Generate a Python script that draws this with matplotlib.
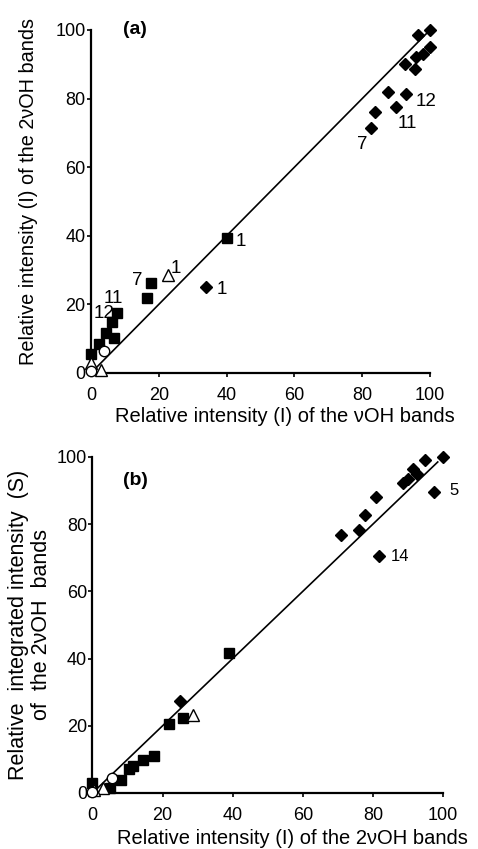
import matplotlib
matplotlib.use("Agg")
import matplotlib.pyplot as plt
import numpy as np

plt.rcParams["font.family"] = ["Liberation Sans", "DejaVu Sans"]

# (a) 2vOH vs vOH relative intensities
a_diamond_x = [100, 96.5, 100, 92.5, 95.5, 96, 98, 87.7, 93, 90, 83.7, 82.5, 33.8]
a_diamond_y = [100, 98.5, 95, 90, 88.6, 92, 93, 82, 81.3, 77.6, 76, 71.3, 25.2]
a_square_x = [40, 17.8, 16.6, 7.8, 6.2, 4.3, 6.8, 2.3, 0]
a_square_y = [39.3, 26.2, 22, 17.6, 14.8, 11.6, 10.2, 8.4, 5.4]
a_triangle_x = [22.8, 0, 3]
a_triangle_y = [28.6, 3, 0.8]
a_circle_x = [3.9, 0]
a_circle_y = [6.4, 0.5]
a_fit = (1.0, 0.0, 0, 99)  # slope, intercept, x start, x end
a_notes = [("1", 44.3, 38.3), ("7", 13.7, 27.1), ("1", 25.1, 30.5),
           ("1", 38.7, 24.4), ("11", 6.6, 21.8), ("12", 3.8, 17.4),
           ("12", 98.8, 79.1), ("11", 93.4, 72.8), ("7", 80.1, 66.5)]

# (b) integrated 2vOH intensity vs 2vOH intensity
b_diamond_x = [100, 94.8, 91.5, 92.5, 90, 88.7, 81, 77.7, 76.1, 70.8, 97.5, 81.8, 24.9]
b_diamond_y = [100, 99, 96.4, 95, 93.5, 92.2, 88.2, 82.7, 78.3, 76.8, 89.5, 70.6, 27.5]
b_square_x = [39, 21.8, 25.8, 17.6, 14.4, 11.5, 10.3, 8.2, 5, 0]
b_square_y = [41.8, 20.5, 22.2, 10.9, 9.9, 8, 7, 3.8, 1.5, 3]
b_triangle_x = [28.8, 3, 0.5]
b_triangle_y = [23.2, 1.5, 1]
b_circle_x = [5.5, 0]
b_circle_y = [4.6, 0.3]
b_fit = (1.0, 0.0, 0, 98.5)
b_notes = [("5", 103, 89.9), ("14", 87.7, 70.4)]

ticks = [0, 20, 40, 60, 80, 100]


def draw_panel(ax, d, s, t, c, fit, notes, note_size):
    slope, icpt, x0, x1 = fit
    xs = np.array([x0, x1])
    ax.plot(xs, slope * xs + icpt, color="black", lw=1.2, zorder=2)
    ax.plot(*s, "s", color="black", ms=6.5, clip_on=False, zorder=3)
    ax.plot(*d, "D", color="black", ms=5.8, clip_on=False, zorder=3)
    ax.plot(*t, "^", mfc="white", mec="black", mew=1.0, ms=8, clip_on=False, zorder=4)
    ax.plot(*c, "o", mfc="white", mec="black", mew=1.0, ms=7.5, clip_on=False, zorder=5)
    for txt, x, y in notes:
        ax.text(x, y, txt, fontsize=note_size, ha="center", va="center")
    ax.set_xlim(0, 100)
    ax.set_ylim(0, 100)
    ax.set_xticks(ticks)
    ax.set_yticks(ticks)
    for side in ("top", "right"):
        ax.spines[side].set_visible(False)
    for side in ("left", "bottom"):
        ax.spines[side].set_linewidth(1.6)
    ax.tick_params(direction="out", length=3, width=1.2, labelsize=13, pad=1)
    ax.tick_params(axis="x", pad=7)


fig = plt.figure(figsize=(4.78, 8.49), dpi=100)

ax_a = fig.add_axes([0.1904, 0.5607, 0.7092, 0.4040])
draw_panel(ax_a, (a_diamond_x, a_diamond_y), (a_square_x, a_square_y),
           (a_triangle_x, a_triangle_y), (a_circle_x, a_circle_y), a_fit, a_notes, 13.5)
ax_a.text(9.5, 100, "(a)", fontsize=14, fontweight="bold", ha="left", va="center")
ax_a.set_xlabel("Relative intensity (I) of the \u03bdOH bands", fontsize=14.5)
ax_a.xaxis.set_label_coords(0.572, -0.099)
ax_a.set_ylabel("Relative intensity (I) of the 2\u03bdOH bands", fontsize=14.3)
ax_a.yaxis.set_label_coords(-0.156, 0.53)

ax_b = fig.add_axes([0.1935, 0.0660, 0.7333, 0.3958])
draw_panel(ax_b, (b_diamond_x, b_diamond_y), (b_square_x, b_square_y),
           (b_triangle_x, b_triangle_y), (b_circle_x, b_circle_y), b_fit, b_notes, 12)
ax_b.text(8.6, 93, "(b)", fontsize=14, fontweight="bold", ha="left", va="center")
ax_b.set_xlabel("Relative intensity (I) of the 2\u03bdOH bands", fontsize=14.5)
ax_b.xaxis.set_label_coords(0.571, -0.106)
ax_b.set_ylabel("Relative  integrated intensity  (S)\nof  the 2\u03bdOH  bands",
                fontsize=15.5, linespacing=1.15)
ax_b.yaxis.set_label_coords(-0.115, 0.5)

fig.savefig("out.png", dpi=100)
